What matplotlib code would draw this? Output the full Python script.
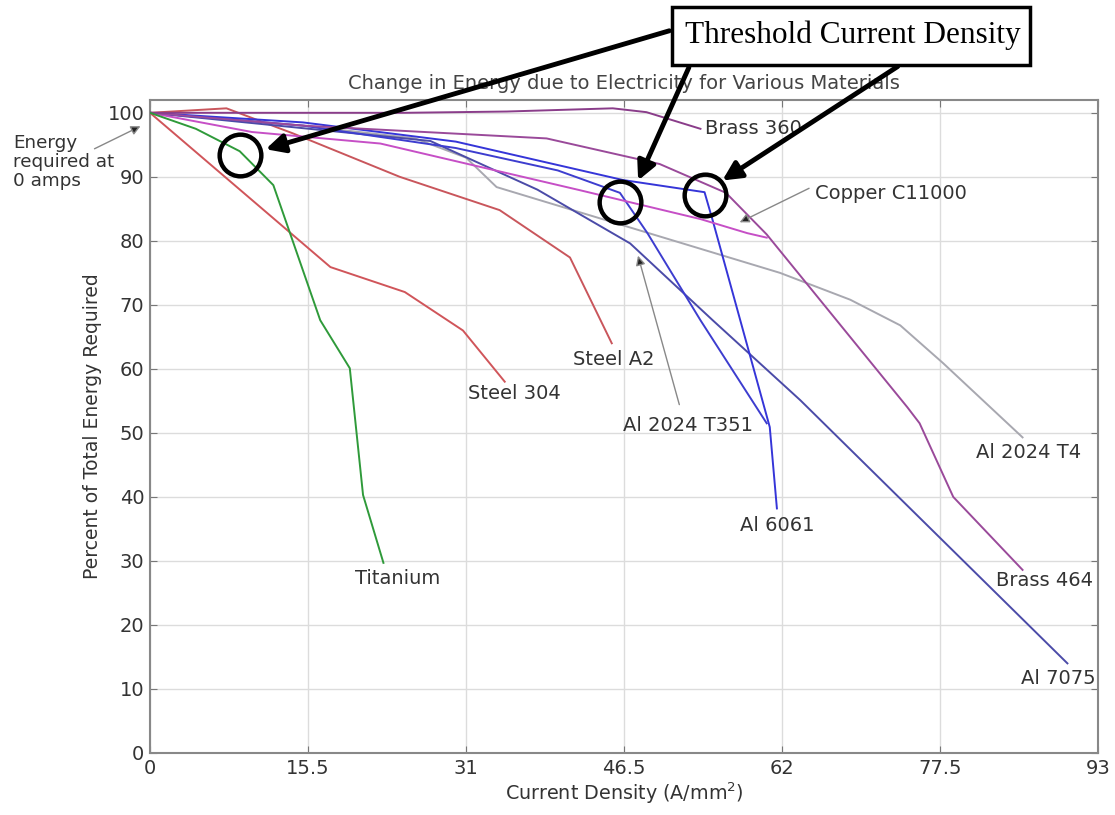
import matplotlib
matplotlib.use("Agg")
import matplotlib.pyplot as plt
from matplotlib.patches import Rectangle

# current density (A/mm^2) vs. percent of total energy required
titanium_x = [0, 4.5, 8.8, 12.1, 16.7, 19.6, 20.9, 22.9]
titanium_y = [100, 97.5, 94, 88.7, 67.6, 60.1, 40.3, 29.7]

steel304_x = [0, 17.7, 25, 30.7, 34.8]
steel304_y = [100, 75.9, 72, 66, 58]

steelA2_x = [0, 7.5, 14, 24.5, 34.3, 41.2, 45.3]
steelA2_y = [100, 100.7, 96.8, 90, 84.8, 77.4, 64]

brass360_x = [0, 25, 35, 45.4, 48.7, 54]
brass360_y = [100, 100, 100.2, 100.7, 100.1, 97.5]

al2024t4_x = [0, 15, 26, 31, 34, 61.8, 68.7, 73.6, 77.8, 85.6]
al2024t4_y = [100, 98, 96, 93, 88.4, 75, 70.8, 66.8, 60.9, 49.3]

al7075_x = [0, 27.5, 38, 47.1, 55.2, 63.8, 90]
al7075_y = [100, 95.6, 88, 79.6, 67.6, 55.1, 14]

al2024t351_x = [0, 15, 30, 40, 46.1, 48.8, 54, 60.5]
al2024t351_y = [100, 98, 94.5, 91, 87.5, 81.2, 67.6, 51.5]

al6061_x = [0, 15, 30, 46.4, 54.4, 55.2, 60.8, 61.5]
al6061_y = [100, 98.5, 95.5, 89.5, 87.6, 83.2, 50.9, 38.2]

copper_x = [0, 10, 22.6, 42.2, 54, 58.6, 60.5]
copper_y = [100, 97, 95.2, 87.9, 83.4, 81.2, 80.5]

brass464_x = [0, 15, 38.9, 50, 56.5, 60.5, 74.3, 75.5, 78.8, 85.6]
brass464_y = [100, 98, 96, 92, 87.5, 81, 54, 51.5, 40, 28.6]

xticks = [0, 15.5, 31, 46.5, 62, 77.5, 93]
yticks = list(range(0, 101, 10))

# label text, x, y (data units)
labels = [
    ("Brass 360", 54.4, 97.6),
    ("Copper C11000", 65.2, 87.4),
    ("Steel A2", 41.5, 61.5),
    ("Steel 304", 31.2, 56.2),
    ("Al 2024 T351", 46.4, 51.2),
    ("Al 2024 T4", 81.0, 47.0),
    ("Al 6061", 57.9, 35.6),
    ("Titanium", 20.1, 27.3),
    ("Brass 464", 83.0, 27.0),
    ("Al 7075", 85.4, 11.7),
]

# threshold points (data units)
threshold_x = [8.8, 46.1, 54.4]
threshold_y = [93.4, 86.0, 87.1]

W, H = 1115, 815
fig = plt.figure(figsize=(W / 100, H / 100), dpi=100)
ax = fig.add_axes([150 / W, 1 - 753 / H, (1098 - 150) / W, (753 - 100) / H])

series = [
    (steel304_x, steel304_y, "#d0555a"),
    (steelA2_x, steelA2_y, "#c9565c"),
    (al2024t4_x, al2024t4_y, "#a8a8b0"),
    (al7075_x, al7075_y, "#4b4ba8"),
    (al2024t351_x, al2024t351_y, "#3d3dcf"),
    (al6061_x, al6061_y, "#3535d8"),
    (copper_x, copper_y, "#c64fc6"),
    (brass464_x, brass464_y, "#9a4a9a"),
    (brass360_x, brass360_y, "#8a3d8a"),
    (titanium_x, titanium_y, "#2f9a3a"),
]
for xs, ys, c in series:
    ax.plot(xs, ys, color=c, lw=1.4, zorder=3)

ax.set_xlim(0, 93)
ax.set_ylim(0, 102)
ax.set_xticks(xticks)
ax.set_xticklabels(["0", "15.5", "31", "46.5", "62", "77.5", "93"])
ax.set_yticks(yticks)
ax.grid(True, color="#dcdcdc", lw=1.0)
ax.tick_params(direction="in", length=5, color="#777777", labelsize=14,
               labelcolor="#333333", top=True, right=True, pad=4)
for s in ax.spines.values():
    s.set_color("#888888")
    s.set_linewidth(1.5)

ax.set_title("Change in Energy due to Electricity for Various Materials",
             fontsize=14, color="#444444", pad=8)
ax.set_xlabel("Current Density (A/mm$^2$)", fontsize=13.8, color="#333333", labelpad=2)
ax.set_ylabel("Percent of Total Energy Required", fontsize=13.5, color="#333333")

for txt, x, y in labels:
    ax.text(x, y, txt, fontsize=14, color="#333333", va="center", ha="left", zorder=5)

# small pointers to the curves
ax.annotate("", xy=(57.6, 82.7), xytext=(64.9, 88.4),
            arrowprops=dict(arrowstyle="-|>", color="#888888", lw=1.0,
                            mutation_scale=14, fc="#222222"))
ax.annotate("", xy=(47.8, 78.1), xytext=(52.0, 54.0),
            arrowprops=dict(arrowstyle="-|>", color="#888888", lw=1.0,
                            mutation_scale=14, fc="#222222"))

# note on the left for the starting point
fig.text(13 / W, 1 - 162 / H, "Energy\nrequired at\n0 amps", fontsize=13.2,
         color="#333333", va="center", ha="left", linespacing=1.1)
ax.annotate("", xy=(143, H - 125), xycoords="figure pixels",
            xytext=(92, H - 150), textcoords="figure pixels",
            arrowprops=dict(arrowstyle="-|>", color="#888888", lw=1.0,
                            mutation_scale=14, fc="#222222"), annotation_clip=False)

# threshold markers and callout
ax.plot(threshold_x, threshold_y, "o", ms=30, mfc="none", mec="black", mew=3.2, zorder=6)

fig.patches.append(Rectangle((672 / W, 1 - 65 / H), (1030 - 672) / W, 58 / H,
                             transform=fig.transFigure, fc="white", ec="black", lw=2.5,
                             zorder=10))
fig.text(853 / W, 1 - 35 / H, "Threshold Current Density", family="Liberation Serif",
         fontsize=22.5, ha="center", va="center", zorder=11)

arrow_kw = dict(arrowstyle="-|>", color="black", lw=3.5, mutation_scale=28)
for start, end in [((672, 30), (263, 150)), ((690, 65), (637, 183)), ((900, 65), (720, 182))]:
    ax.annotate("", xy=(end[0], H - end[1]), xycoords="figure pixels",
                xytext=(start[0], H - start[1]), textcoords="figure pixels",
                arrowprops=arrow_kw, annotation_clip=False, zorder=9)

fig.savefig("out.png", dpi=100, facecolor="white")
